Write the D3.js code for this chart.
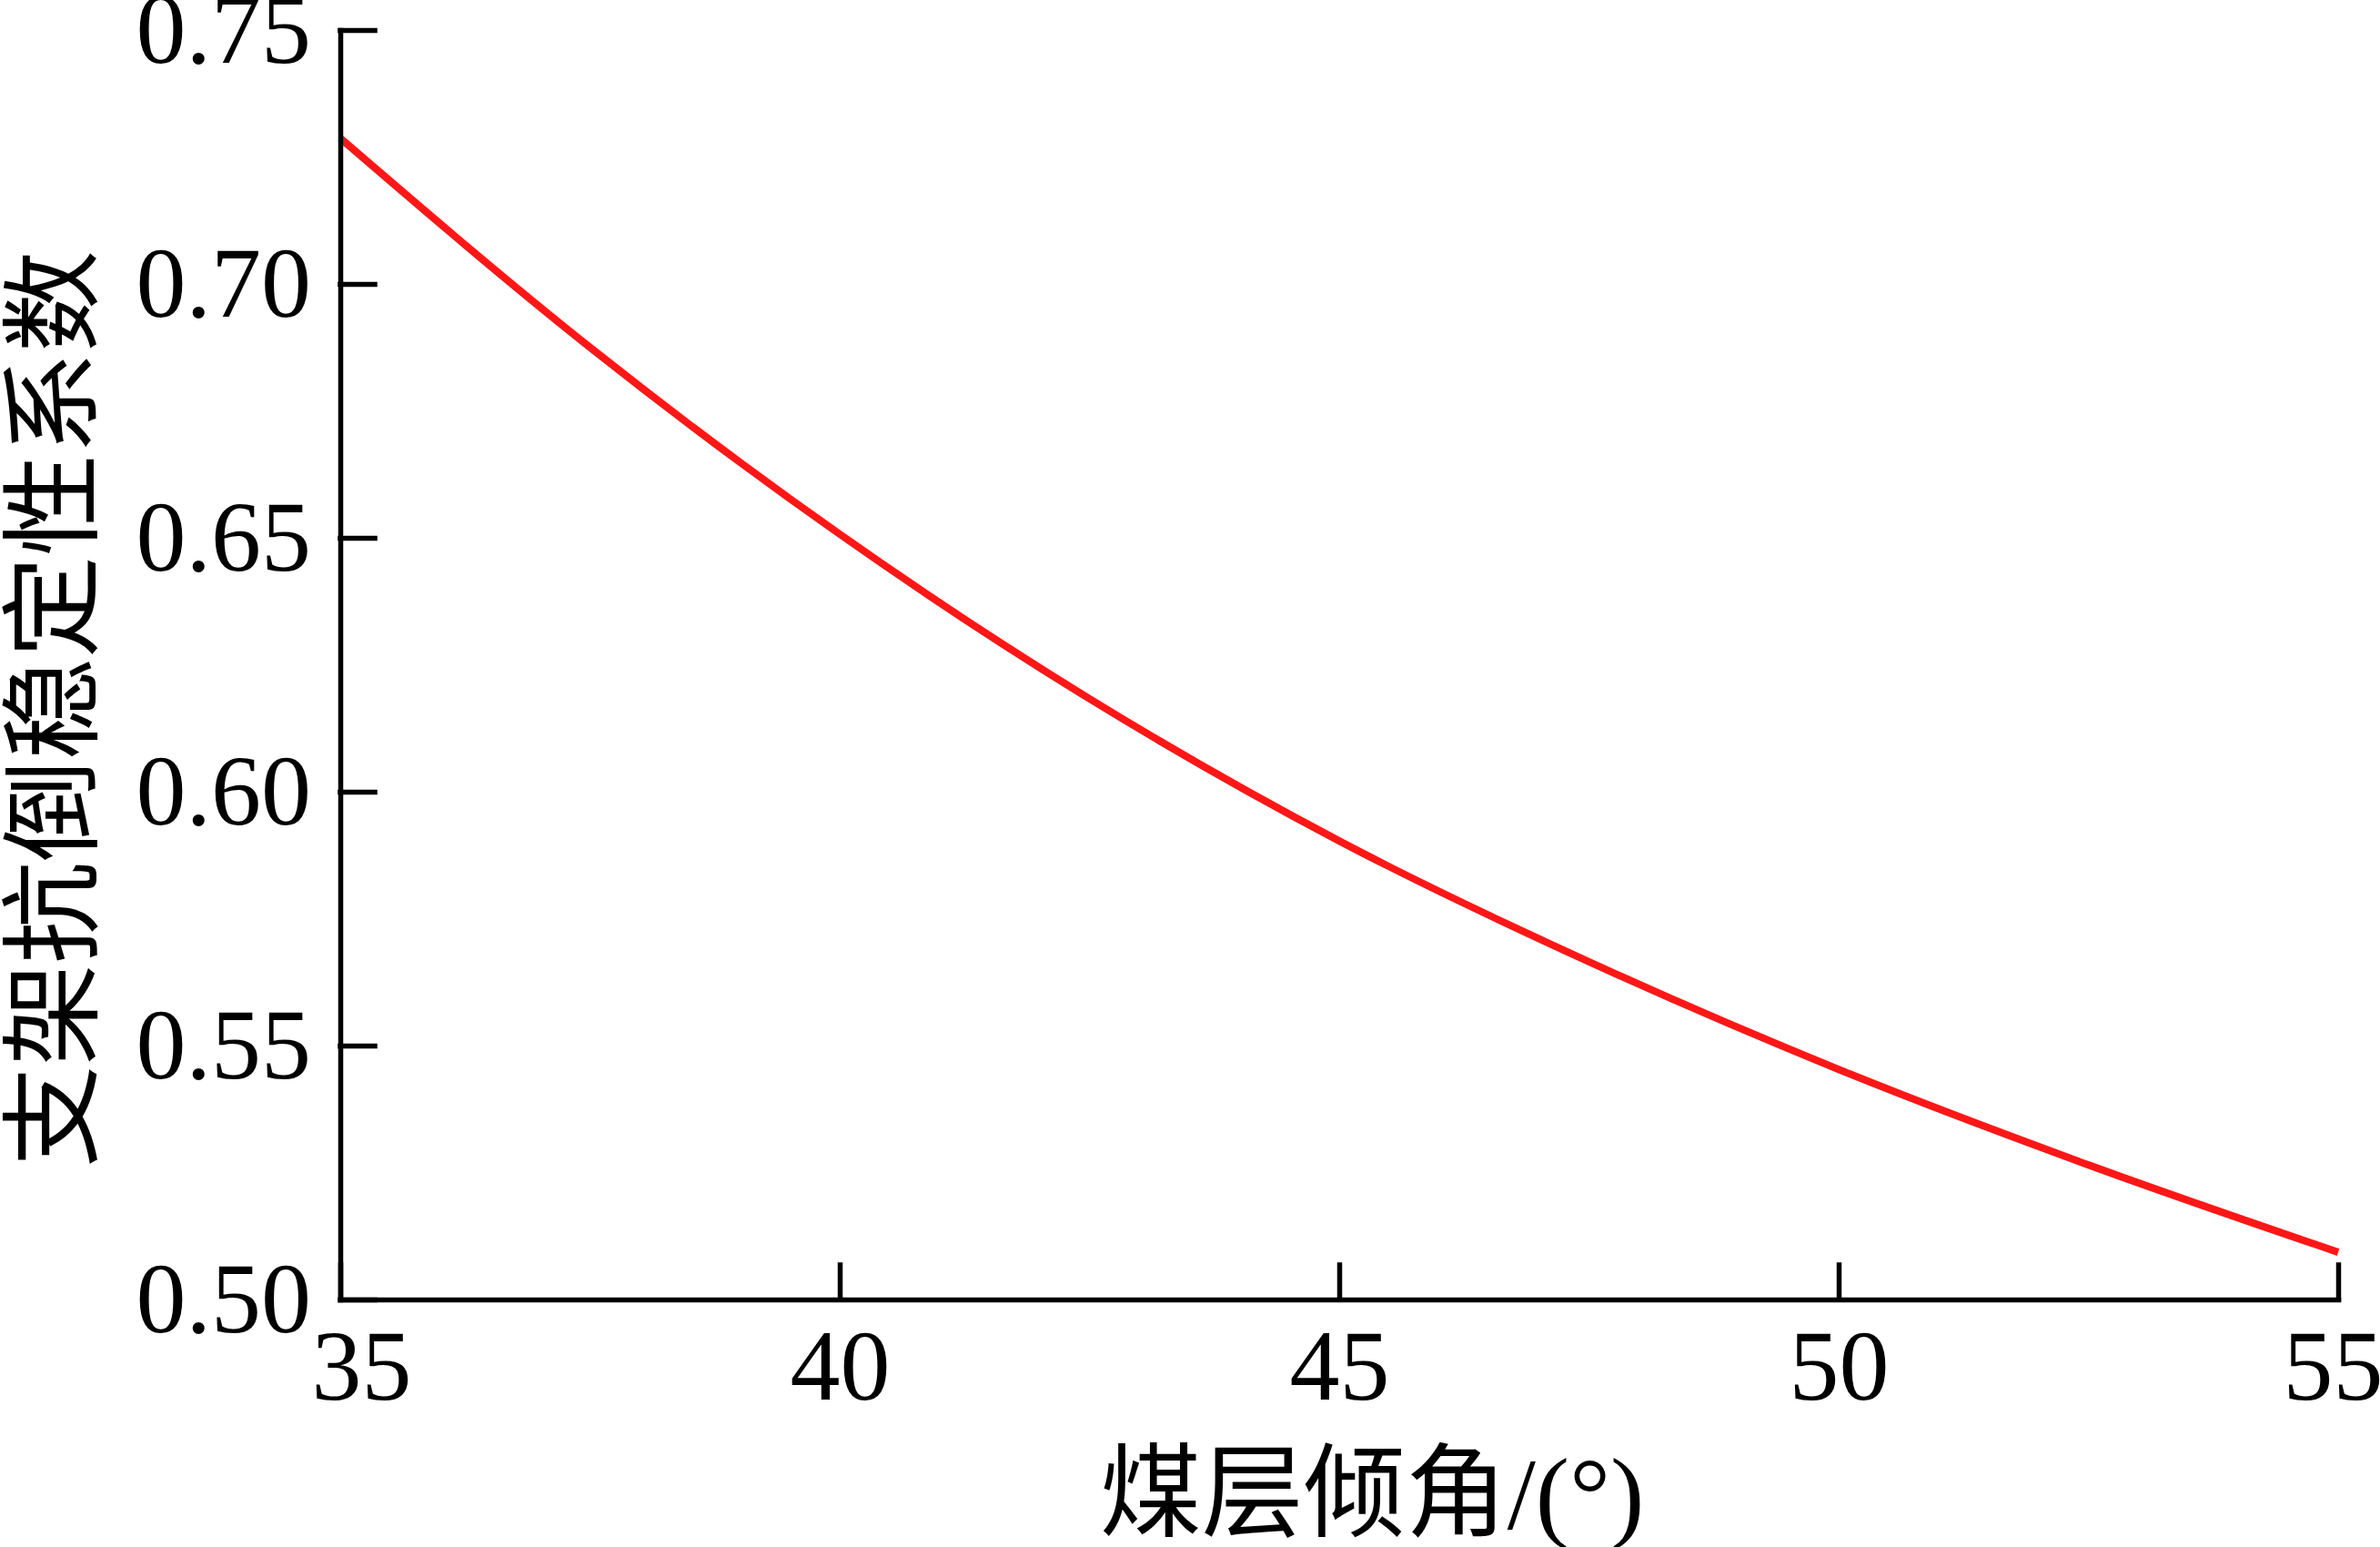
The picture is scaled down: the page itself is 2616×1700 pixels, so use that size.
<!DOCTYPE html>
<html>
<head>
<meta charset="utf-8">
<script src="https://cdn.jsdelivr.net/npm/d3@7"></script>
<style>
  html, body { margin: 0; padding: 0; background: #fff; }
</style>
</head>
<body>
<div id="chart"></div>
<script>
// 数据：煤层倾角与支架抗倒稳定性系数
const angles = [35, 37.5, 40, 42.5, 45, 47.5, 50, 52.5, 55];
const stability = [0.7287, 0.6875, 0.6507, 0.6183, 0.5903, 0.5665, 0.5453, 0.5265, 0.5093];
const xTicks = [35, 40, 45, 50, 55];
const yTicks = [0.50, 0.55, 0.60, 0.65, 0.70, 0.75];

const width = 2616;
const height = 1700;
const marginLeft = 374;
const marginRight = 46;
const marginTop = 33;
const marginBottom = 272;
const fontSerif = "'Liberation Serif', 'Times New Roman', serif";
const fontMixed = "'Liberation Serif', 'Noto Sans CJK SC', serif";

const x = d3.scaleLinear()
    .domain([35, 55])
    .range([marginLeft, width - marginRight]);

const y = d3.scaleLinear()
    .domain([0.5, 0.75])
    .range([height - marginBottom, marginTop]);

const svg = d3.select("#chart")
    .append("svg")
    .attr("width", width)
    .attr("height", height)
    .attr("viewBox", [0, 0, width, height]);

// 曲线
const line = d3.line()
    .x((d, i) => x(angles[i]))
    .y(d => y(d))
    .curve(d3.curveMonotoneX);

svg.append("path")
    .datum(stability)
    .attr("fill", "none")
    .attr("stroke", "#ff1717")
    .attr("stroke-width", 8)
    .attr("d", line);

// 横轴
const gx = svg.append("g")
    .attr("transform", `translate(0,${height - marginBottom})`)
    .call(d3.axisBottom(x).tickValues(xTicks).tickSizeInner(-38).tickSizeOuter(0).tickPadding(32).tickFormat(d3.format("d")));

// 第一个和最后一个刻度标签稍微偏移
gx.selectAll(".tick text").filter(d => d === 35).attr("dx", 23);
gx.selectAll(".tick text").filter(d => d === 55).attr("dx", -6);

// 纵轴
const gy = svg.append("g")
    .attr("transform", `translate(${marginLeft},0)`)
    .call(d3.axisLeft(y).tickValues(yTicks).tickSizeInner(-38).tickSizeOuter(0).tickPadding(32).tickFormat(d3.format(".2f")));

[gx, gy].forEach(g => {
    g.selectAll(".domain, .tick line")
        .attr("stroke", "#000")
        .attr("stroke-width", 5.5)
        .attr("stroke-linecap", "square");
    g.selectAll(".tick text")
        .attr("fill", "#000")
        .style("font-family", fontSerif)
        .style("font-size", "110px");
});

// 轴标题
svg.append("text")
    .attr("x", 1508)
    .attr("y", 1680)
    .attr("text-anchor", "middle")
    .style("font-family", fontMixed)
    .style("font-size", "112px")
    .text("煤层倾角/(°)");

svg.append("text")
    .attr("transform", "translate(98,779) rotate(-90)")
    .attr("text-anchor", "middle")
    .style("font-family", fontMixed)
    .style("font-size", "112px")
    .text("支架抗倒稳定性系数");
</script>
</body>
</html>
